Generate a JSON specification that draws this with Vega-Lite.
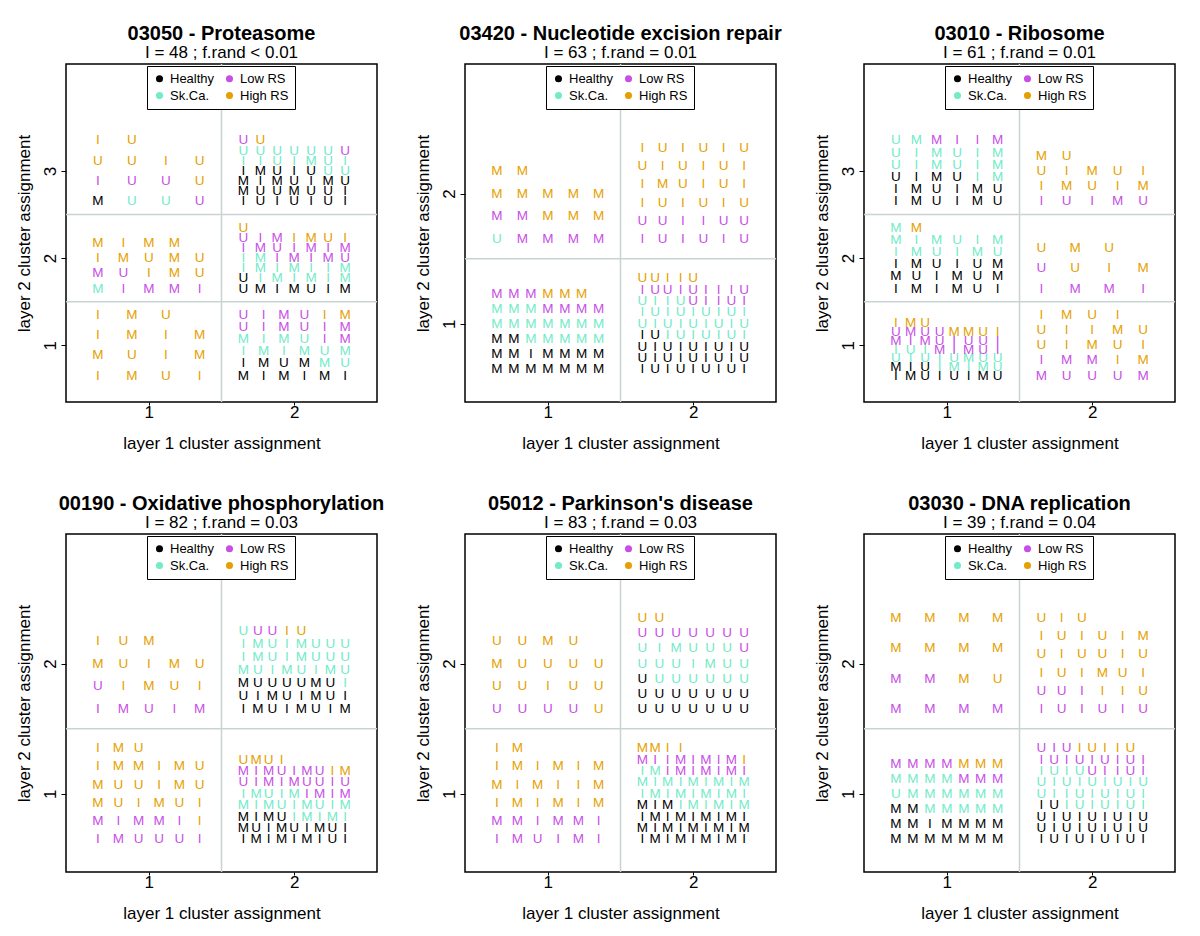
{
"$schema": "https://vega.github.io/schema/vega-lite/v6.json",
"background": "white",
"padding": {"left": 14, "top": 23, "right": 5, "bottom": 5},
"columns": 3,
"spacing": {"row": 132, "column": 88},
"bounds": "flush",
"resolve": {"scale": {"x": "independent", "y": "independent", "color": "independent"}, "legend": {"color": "independent"}},
"config": {
  "font": "Liberation Sans",
  "view": {"stroke": "#000000", "strokeWidth": 1.5},
  "title": {"fontSize": 20, "fontWeight": "bold", "subtitleFontSize": 17, "subtitleColor": "#000000", "color": "#000000", "anchor": "middle", "offset": 2, "subtitlePadding": 1, "font": "Liberation Sans", "subtitleFont": "Liberation Sans"},
  "axis": {"grid": false, "domain": false, "labelFontSize": 17, "titleFontSize": 17, "titleFontWeight": "normal", "labelColor": "#000000", "titleColor": "#000000", "tickColor": "#000000", "tickSize": 5, "labelPadding": 2, "titleFont": "Liberation Sans", "labelFont": "Liberation Sans"},
  "axisY": {"labelAngle": -90, "labelAlign": "center", "labelBaseline": "bottom", "titlePadding": 8},
  "axisX": {"tickSize": 3, "labelPadding": -1, "titlePadding": 15},
  "text": {"fontSize": 13.5, "font": "Liberation Sans"},
  "rule": {"color": "#C9D3D3", "strokeWidth": 1.5},
  "legend": {"orient": "none", "legendX": 81, "legendY": 2, "direction": "horizontal", "columns": 2, "strokeColor": "#000000", "fillColor": "#ffffff", "padding": 6, "symbolType": "circle", "symbolSize": 50, "labelFontSize": 13, "labelFont": "Liberation Sans", "labelColor": "#000000", "columnPadding": 8, "rowPadding": 3, "labelOffset": 4, "symbolStrokeWidth": 0, "symbolOpacity": 1}
},
"concat": [
{
 "width": 311, "height": 338,
 "title": {"text": "03050 - Proteasome", "subtitle": "I = 48 ; f.rand < 0.01"},
 "layer": [
  {"data": {"values": [{}]}, "mark": "rule", "encoding": {"x": {"datum": 1.5, "scale": {"domain": [0.43, 2.57], "nice": false, "zero": false}}}},
  {"data": {"values": [{}]}, "mark": "rule", "encoding": {"y": {"datum": 1.5, "scale": {"domain": [0.348, 4.228], "nice": false, "zero": false}}}},
  {"data": {"values": [{}]}, "mark": "rule", "encoding": {"y": {"datum": 2.5, "scale": {"domain": [0.348, 4.228], "nice": false, "zero": false}}}},
  {"data": {"values": [
{"x":0.65,"y":2.65,"l":"M","g":"K"},{"x":0.883,"y":2.65,"l":"U","g":"T"},{"x":1.117,"y":2.65,"l":"U","g":"T"},{"x":1.35,"y":2.65,"l":"U","g":"P"},
{"x":0.65,"y":2.883,"l":"I","g":"P"},{"x":0.883,"y":2.883,"l":"U","g":"P"},{"x":1.117,"y":2.883,"l":"U","g":"P"},{"x":1.35,"y":2.883,"l":"U","g":"O"},
{"x":0.65,"y":3.117,"l":"U","g":"O"},{"x":0.883,"y":3.117,"l":"U","g":"O"},{"x":1.117,"y":3.117,"l":"I","g":"O"},{"x":1.35,"y":3.117,"l":"U","g":"O"},
{"x":0.65,"y":3.35,"l":"I","g":"O"},{"x":0.883,"y":3.35,"l":"U","g":"O"},
{"x":0.65,"y":1.65,"l":"M","g":"T"},{"x":0.825,"y":1.65,"l":"I","g":"P"},{"x":1,"y":1.65,"l":"M","g":"P"},{"x":1.175,"y":1.65,"l":"M","g":"P"},{"x":1.35,"y":1.65,"l":"I","g":"P"},
{"x":0.65,"y":1.825,"l":"M","g":"P"},{"x":0.825,"y":1.825,"l":"U","g":"P"},{"x":1,"y":1.825,"l":"I","g":"O"},{"x":1.175,"y":1.825,"l":"M","g":"O"},{"x":1.35,"y":1.825,"l":"U","g":"O"},
{"x":0.65,"y":2,"l":"I","g":"O"},{"x":0.825,"y":2,"l":"M","g":"O"},{"x":1,"y":2,"l":"U","g":"O"},{"x":1.175,"y":2,"l":"M","g":"O"},{"x":1.35,"y":2,"l":"U","g":"O"},
{"x":0.65,"y":2.175,"l":"M","g":"O"},{"x":0.825,"y":2.175,"l":"I","g":"O"},{"x":1,"y":2.175,"l":"M","g":"O"},{"x":1.175,"y":2.175,"l":"M","g":"O"},
{"x":0.65,"y":0.65,"l":"I","g":"O"},{"x":0.883,"y":0.65,"l":"M","g":"O"},{"x":1.117,"y":0.65,"l":"U","g":"O"},{"x":1.35,"y":0.65,"l":"I","g":"O"},
{"x":0.65,"y":0.883,"l":"M","g":"O"},{"x":0.883,"y":0.883,"l":"U","g":"O"},{"x":1.117,"y":0.883,"l":"I","g":"O"},{"x":1.35,"y":0.883,"l":"M","g":"O"},
{"x":0.65,"y":1.117,"l":"I","g":"O"},{"x":0.883,"y":1.117,"l":"M","g":"O"},{"x":1.117,"y":1.117,"l":"I","g":"O"},{"x":1.35,"y":1.117,"l":"M","g":"O"},
{"x":0.65,"y":1.35,"l":"I","g":"O"},{"x":0.883,"y":1.35,"l":"M","g":"O"},{"x":1.117,"y":1.35,"l":"U","g":"O"},
{"x":1.65,"y":2.65,"l":"I","g":"K"},{"x":1.767,"y":2.65,"l":"U","g":"K"},{"x":1.883,"y":2.65,"l":"I","g":"K"},{"x":2,"y":2.65,"l":"U","g":"K"},{"x":2.117,"y":2.65,"l":"I","g":"K"},{"x":2.233,"y":2.65,"l":"U","g":"K"},{"x":2.35,"y":2.65,"l":"I","g":"K"},
{"x":1.65,"y":2.767,"l":"M","g":"K"},{"x":1.767,"y":2.767,"l":"U","g":"K"},{"x":1.883,"y":2.767,"l":"U","g":"K"},{"x":2,"y":2.767,"l":"M","g":"K"},{"x":2.117,"y":2.767,"l":"U","g":"K"},{"x":2.233,"y":2.767,"l":"U","g":"K"},{"x":2.35,"y":2.767,"l":"I","g":"K"},
{"x":1.65,"y":2.883,"l":"M","g":"K"},{"x":1.767,"y":2.883,"l":"I","g":"K"},{"x":1.883,"y":2.883,"l":"M","g":"K"},{"x":2,"y":2.883,"l":"U","g":"K"},{"x":2.117,"y":2.883,"l":"I","g":"K"},{"x":2.233,"y":2.883,"l":"M","g":"K"},{"x":2.35,"y":2.883,"l":"U","g":"K"},
{"x":1.65,"y":3,"l":"I","g":"K"},{"x":1.767,"y":3,"l":"M","g":"K"},{"x":1.883,"y":3,"l":"U","g":"K"},{"x":2,"y":3,"l":"I","g":"K"},{"x":2.117,"y":3,"l":"U","g":"K"},{"x":2.233,"y":3,"l":"U","g":"T"},{"x":2.35,"y":3,"l":"U","g":"T"},
{"x":1.65,"y":3.117,"l":"I","g":"T"},{"x":1.767,"y":3.117,"l":"I","g":"T"},{"x":1.883,"y":3.117,"l":"U","g":"T"},{"x":2,"y":3.117,"l":"I","g":"T"},{"x":2.117,"y":3.117,"l":"M","g":"T"},{"x":2.233,"y":3.117,"l":"U","g":"T"},{"x":2.35,"y":3.117,"l":"I","g":"T"},
{"x":1.65,"y":3.233,"l":"U","g":"T"},{"x":1.767,"y":3.233,"l":"U","g":"T"},{"x":1.883,"y":3.233,"l":"U","g":"T"},{"x":2,"y":3.233,"l":"U","g":"T"},{"x":2.117,"y":3.233,"l":"U","g":"T"},{"x":2.233,"y":3.233,"l":"U","g":"T"},{"x":2.35,"y":3.233,"l":"U","g":"P"},
{"x":1.65,"y":3.35,"l":"U","g":"P"},{"x":1.767,"y":3.35,"l":"U","g":"O"},
{"x":1.65,"y":1.65,"l":"U","g":"K"},{"x":1.767,"y":1.65,"l":"M","g":"K"},{"x":1.883,"y":1.65,"l":"I","g":"K"},{"x":2,"y":1.65,"l":"M","g":"K"},{"x":2.117,"y":1.65,"l":"U","g":"K"},{"x":2.233,"y":1.65,"l":"I","g":"K"},{"x":2.35,"y":1.65,"l":"M","g":"K"},
{"x":1.65,"y":1.767,"l":"U","g":"K"},{"x":1.767,"y":1.767,"l":"I","g":"T"},{"x":1.883,"y":1.767,"l":"M","g":"T"},{"x":2,"y":1.767,"l":"I","g":"T"},{"x":2.117,"y":1.767,"l":"M","g":"T"},{"x":2.233,"y":1.767,"l":"I","g":"T"},{"x":2.35,"y":1.767,"l":"M","g":"T"},
{"x":1.65,"y":1.883,"l":"I","g":"T"},{"x":1.767,"y":1.883,"l":"M","g":"T"},{"x":1.883,"y":1.883,"l":"I","g":"T"},{"x":2,"y":1.883,"l":"M","g":"T"},{"x":2.117,"y":1.883,"l":"I","g":"T"},{"x":2.233,"y":1.883,"l":"I","g":"T"},{"x":2.35,"y":1.883,"l":"M","g":"T"},
{"x":1.65,"y":2,"l":"I","g":"T"},{"x":1.767,"y":2,"l":"M","g":"T"},{"x":1.883,"y":2,"l":"I","g":"P"},{"x":2,"y":2,"l":"M","g":"P"},{"x":2.117,"y":2,"l":"I","g":"P"},{"x":2.233,"y":2,"l":"M","g":"P"},{"x":2.35,"y":2,"l":"U","g":"P"},
{"x":1.65,"y":2.117,"l":"I","g":"P"},{"x":1.767,"y":2.117,"l":"M","g":"P"},{"x":1.883,"y":2.117,"l":"U","g":"P"},{"x":2,"y":2.117,"l":"I","g":"P"},{"x":2.117,"y":2.117,"l":"M","g":"P"},{"x":2.233,"y":2.117,"l":"I","g":"P"},{"x":2.35,"y":2.117,"l":"M","g":"P"},
{"x":1.65,"y":2.233,"l":"U","g":"P"},{"x":1.767,"y":2.233,"l":"I","g":"P"},{"x":1.883,"y":2.233,"l":"M","g":"P"},{"x":2,"y":2.233,"l":"I","g":"O"},{"x":2.117,"y":2.233,"l":"M","g":"O"},{"x":2.233,"y":2.233,"l":"U","g":"O"},{"x":2.35,"y":2.233,"l":"I","g":"O"},
{"x":1.65,"y":2.35,"l":"U","g":"O"},
{"x":1.65,"y":0.65,"l":"M","g":"K"},{"x":1.79,"y":0.65,"l":"I","g":"K"},{"x":1.93,"y":0.65,"l":"M","g":"K"},{"x":2.07,"y":0.65,"l":"I","g":"K"},{"x":2.21,"y":0.65,"l":"M","g":"K"},{"x":2.35,"y":0.65,"l":"I","g":"K"},
{"x":1.65,"y":0.79,"l":"I","g":"K"},{"x":1.79,"y":0.79,"l":"M","g":"K"},{"x":1.93,"y":0.79,"l":"U","g":"K"},{"x":2.07,"y":0.79,"l":"M","g":"K"},{"x":2.21,"y":0.79,"l":"M","g":"T"},{"x":2.35,"y":0.79,"l":"U","g":"T"},
{"x":1.65,"y":0.93,"l":"I","g":"T"},{"x":1.79,"y":0.93,"l":"M","g":"T"},{"x":1.93,"y":0.93,"l":"I","g":"T"},{"x":2.07,"y":0.93,"l":"M","g":"T"},{"x":2.21,"y":0.93,"l":"U","g":"T"},{"x":2.35,"y":0.93,"l":"M","g":"T"},
{"x":1.65,"y":1.07,"l":"M","g":"T"},{"x":1.79,"y":1.07,"l":"I","g":"T"},{"x":1.93,"y":1.07,"l":"M","g":"T"},{"x":2.07,"y":1.07,"l":"U","g":"T"},{"x":2.21,"y":1.07,"l":"I","g":"P"},{"x":2.35,"y":1.07,"l":"M","g":"P"},
{"x":1.65,"y":1.21,"l":"U","g":"P"},{"x":1.79,"y":1.21,"l":"I","g":"P"},{"x":1.93,"y":1.21,"l":"M","g":"P"},{"x":2.07,"y":1.21,"l":"U","g":"P"},{"x":2.21,"y":1.21,"l":"I","g":"P"},{"x":2.35,"y":1.21,"l":"M","g":"P"},
{"x":1.65,"y":1.35,"l":"U","g":"P"},{"x":1.79,"y":1.35,"l":"I","g":"P"},{"x":1.93,"y":1.35,"l":"M","g":"P"},{"x":2.07,"y":1.35,"l":"U","g":"P"},{"x":2.21,"y":1.35,"l":"I","g":"O"},{"x":2.35,"y":1.35,"l":"M","g":"O"}
  ]},
  "mark": "text",
  "encoding": {
   "x": {"field": "x", "type": "quantitative", "scale": {"domain": [0.43, 2.57], "nice": false, "zero": false}, "axis": {"values": [1, 2], "format": "d", "title": "layer 1 cluster assignment"}},
   "y": {"field": "y", "type": "quantitative", "scale": {"domain": [0.348, 4.228], "nice": false, "zero": false}, "axis": {"values": [1, 2, 3], "format": "d", "title": "layer 2 cluster assignment"}},
   "text": {"field": "l"},
   "color": {"field": "g", "type": "nominal", "scale": {"domain": ["K", "P", "T", "O"], "range": ["#000000", "#C84FE6", "#72EBC8", "#E69F00"]}, "legend": {"title": null, "labelExpr": "datum.label == 'K' ? 'Healthy' : datum.label == 'T' ? 'Sk.Ca.' : datum.label == 'P' ? 'Low RS' : 'High RS'"}}
  }}
 ]
},
{
 "width": 311, "height": 338,
 "title": {"text": "03420 - Nucleotide excision repair", "subtitle": "I = 63 ; f.rand = 0.01"},
 "layer": [
  {"data": {"values": [{}]}, "mark": "rule", "encoding": {"x": {"datum": 1.5, "scale": {"domain": [0.43, 2.57], "nice": false, "zero": false}}}},
  {"data": {"values": [{}]}, "mark": "rule", "encoding": {"y": {"datum": 1.5, "scale": {"domain": [0.4, 2.995], "nice": false, "zero": false}}}},
  {"data": {"values": [
{"x":0.65,"y":1.65,"l":"U","g":"T"},{"x":0.825,"y":1.65,"l":"M","g":"P"},{"x":1,"y":1.65,"l":"M","g":"P"},{"x":1.175,"y":1.65,"l":"M","g":"P"},{"x":1.35,"y":1.65,"l":"M","g":"P"},
{"x":0.65,"y":1.825,"l":"M","g":"P"},{"x":0.825,"y":1.825,"l":"M","g":"P"},{"x":1,"y":1.825,"l":"M","g":"O"},{"x":1.175,"y":1.825,"l":"M","g":"O"},{"x":1.35,"y":1.825,"l":"M","g":"O"},
{"x":0.65,"y":2,"l":"M","g":"O"},{"x":0.825,"y":2,"l":"M","g":"O"},{"x":1,"y":2,"l":"M","g":"O"},{"x":1.175,"y":2,"l":"M","g":"O"},{"x":1.35,"y":2,"l":"M","g":"O"},
{"x":0.65,"y":2.175,"l":"M","g":"O"},{"x":0.825,"y":2.175,"l":"M","g":"O"},
{"x":0.65,"y":0.65,"l":"M","g":"K"},{"x":0.767,"y":0.65,"l":"M","g":"K"},{"x":0.883,"y":0.65,"l":"M","g":"K"},{"x":1,"y":0.65,"l":"M","g":"K"},{"x":1.117,"y":0.65,"l":"M","g":"K"},{"x":1.233,"y":0.65,"l":"M","g":"K"},{"x":1.35,"y":0.65,"l":"M","g":"K"},
{"x":0.65,"y":0.767,"l":"M","g":"K"},{"x":0.767,"y":0.767,"l":"M","g":"K"},{"x":0.883,"y":0.767,"l":"I","g":"K"},{"x":1,"y":0.767,"l":"M","g":"K"},{"x":1.117,"y":0.767,"l":"M","g":"K"},{"x":1.233,"y":0.767,"l":"M","g":"K"},{"x":1.35,"y":0.767,"l":"M","g":"K"},
{"x":0.65,"y":0.883,"l":"M","g":"K"},{"x":0.767,"y":0.883,"l":"M","g":"K"},{"x":0.883,"y":0.883,"l":"M","g":"T"},{"x":1,"y":0.883,"l":"M","g":"T"},{"x":1.117,"y":0.883,"l":"M","g":"T"},{"x":1.233,"y":0.883,"l":"M","g":"T"},{"x":1.35,"y":0.883,"l":"M","g":"T"},
{"x":0.65,"y":1,"l":"M","g":"T"},{"x":0.767,"y":1,"l":"M","g":"T"},{"x":0.883,"y":1,"l":"M","g":"T"},{"x":1,"y":1,"l":"M","g":"T"},{"x":1.117,"y":1,"l":"M","g":"T"},{"x":1.233,"y":1,"l":"M","g":"T"},{"x":1.35,"y":1,"l":"M","g":"T"},
{"x":0.65,"y":1.117,"l":"M","g":"T"},{"x":0.767,"y":1.117,"l":"M","g":"T"},{"x":0.883,"y":1.117,"l":"M","g":"T"},{"x":1,"y":1.117,"l":"M","g":"P"},{"x":1.117,"y":1.117,"l":"M","g":"P"},{"x":1.233,"y":1.117,"l":"M","g":"P"},{"x":1.35,"y":1.117,"l":"M","g":"P"},
{"x":0.65,"y":1.233,"l":"M","g":"P"},{"x":0.767,"y":1.233,"l":"M","g":"P"},{"x":0.883,"y":1.233,"l":"M","g":"P"},{"x":1,"y":1.233,"l":"M","g":"O"},{"x":1.117,"y":1.233,"l":"M","g":"O"},{"x":1.233,"y":1.233,"l":"M","g":"O"},
{"x":1.65,"y":1.65,"l":"I","g":"P"},{"x":1.79,"y":1.65,"l":"U","g":"P"},{"x":1.93,"y":1.65,"l":"I","g":"P"},{"x":2.07,"y":1.65,"l":"U","g":"P"},{"x":2.21,"y":1.65,"l":"I","g":"P"},{"x":2.35,"y":1.65,"l":"U","g":"P"},
{"x":1.65,"y":1.79,"l":"U","g":"P"},{"x":1.79,"y":1.79,"l":"U","g":"P"},{"x":1.93,"y":1.79,"l":"I","g":"P"},{"x":2.07,"y":1.79,"l":"I","g":"P"},{"x":2.21,"y":1.79,"l":"U","g":"P"},{"x":2.35,"y":1.79,"l":"U","g":"P"},
{"x":1.65,"y":1.93,"l":"I","g":"O"},{"x":1.79,"y":1.93,"l":"U","g":"O"},{"x":1.93,"y":1.93,"l":"I","g":"O"},{"x":2.07,"y":1.93,"l":"U","g":"O"},{"x":2.21,"y":1.93,"l":"I","g":"O"},{"x":2.35,"y":1.93,"l":"U","g":"O"},
{"x":1.65,"y":2.07,"l":"I","g":"O"},{"x":1.79,"y":2.07,"l":"M","g":"O"},{"x":1.93,"y":2.07,"l":"U","g":"O"},{"x":2.07,"y":2.07,"l":"I","g":"O"},{"x":2.21,"y":2.07,"l":"U","g":"O"},{"x":2.35,"y":2.07,"l":"I","g":"O"},
{"x":1.65,"y":2.21,"l":"U","g":"O"},{"x":1.79,"y":2.21,"l":"I","g":"O"},{"x":1.93,"y":2.21,"l":"U","g":"O"},{"x":2.07,"y":2.21,"l":"I","g":"O"},{"x":2.21,"y":2.21,"l":"U","g":"O"},{"x":2.35,"y":2.21,"l":"I","g":"O"},
{"x":1.65,"y":2.35,"l":"I","g":"O"},{"x":1.79,"y":2.35,"l":"U","g":"O"},{"x":1.93,"y":2.35,"l":"I","g":"O"},{"x":2.07,"y":2.35,"l":"U","g":"O"},{"x":2.21,"y":2.35,"l":"I","g":"O"},{"x":2.35,"y":2.35,"l":"U","g":"O"},
{"x":1.65,"y":0.65,"l":"I","g":"K"},{"x":1.738,"y":0.65,"l":"U","g":"K"},{"x":1.825,"y":0.65,"l":"I","g":"K"},{"x":1.913,"y":0.65,"l":"U","g":"K"},{"x":2,"y":0.65,"l":"I","g":"K"},{"x":2.088,"y":0.65,"l":"U","g":"K"},{"x":2.175,"y":0.65,"l":"I","g":"K"},{"x":2.263,"y":0.65,"l":"U","g":"K"},{"x":2.35,"y":0.65,"l":"I","g":"K"},
{"x":1.65,"y":0.738,"l":"U","g":"K"},{"x":1.738,"y":0.738,"l":"I","g":"K"},{"x":1.825,"y":0.738,"l":"U","g":"K"},{"x":1.913,"y":0.738,"l":"I","g":"K"},{"x":2,"y":0.738,"l":"U","g":"K"},{"x":2.088,"y":0.738,"l":"I","g":"K"},{"x":2.175,"y":0.738,"l":"U","g":"K"},{"x":2.263,"y":0.738,"l":"I","g":"K"},{"x":2.35,"y":0.738,"l":"U","g":"K"},
{"x":1.65,"y":0.825,"l":"U","g":"K"},{"x":1.738,"y":0.825,"l":"I","g":"K"},{"x":1.825,"y":0.825,"l":"U","g":"K"},{"x":1.913,"y":0.825,"l":"I","g":"K"},{"x":2,"y":0.825,"l":"U","g":"K"},{"x":2.088,"y":0.825,"l":"I","g":"K"},{"x":2.175,"y":0.825,"l":"U","g":"K"},{"x":2.263,"y":0.825,"l":"I","g":"K"},{"x":2.35,"y":0.825,"l":"U","g":"K"},
{"x":1.65,"y":0.913,"l":"I","g":"K"},{"x":1.738,"y":0.913,"l":"U","g":"K"},{"x":1.825,"y":0.913,"l":"I","g":"T"},{"x":1.913,"y":0.913,"l":"U","g":"T"},{"x":2,"y":0.913,"l":"I","g":"T"},{"x":2.088,"y":0.913,"l":"U","g":"T"},{"x":2.175,"y":0.913,"l":"I","g":"T"},{"x":2.263,"y":0.913,"l":"U","g":"T"},{"x":2.35,"y":0.913,"l":"I","g":"T"},
{"x":1.65,"y":1,"l":"U","g":"T"},{"x":1.738,"y":1,"l":"I","g":"T"},{"x":1.825,"y":1,"l":"U","g":"T"},{"x":1.913,"y":1,"l":"I","g":"T"},{"x":2,"y":1,"l":"U","g":"T"},{"x":2.088,"y":1,"l":"I","g":"T"},{"x":2.175,"y":1,"l":"U","g":"T"},{"x":2.263,"y":1,"l":"I","g":"T"},{"x":2.35,"y":1,"l":"U","g":"T"},
{"x":1.65,"y":1.088,"l":"I","g":"T"},{"x":1.738,"y":1.088,"l":"U","g":"T"},{"x":1.825,"y":1.088,"l":"I","g":"T"},{"x":1.913,"y":1.088,"l":"U","g":"T"},{"x":2,"y":1.088,"l":"I","g":"T"},{"x":2.088,"y":1.088,"l":"U","g":"T"},{"x":2.175,"y":1.088,"l":"I","g":"T"},{"x":2.263,"y":1.088,"l":"U","g":"T"},{"x":2.35,"y":1.088,"l":"I","g":"T"},
{"x":1.65,"y":1.175,"l":"U","g":"T"},{"x":1.738,"y":1.175,"l":"I","g":"T"},{"x":1.825,"y":1.175,"l":"I","g":"T"},{"x":1.913,"y":1.175,"l":"U","g":"T"},{"x":2,"y":1.175,"l":"U","g":"P"},{"x":2.088,"y":1.175,"l":"I","g":"P"},{"x":2.175,"y":1.175,"l":"I","g":"P"},{"x":2.263,"y":1.175,"l":"U","g":"P"},{"x":2.35,"y":1.175,"l":"I","g":"P"},
{"x":1.65,"y":1.263,"l":"I","g":"P"},{"x":1.738,"y":1.263,"l":"U","g":"P"},{"x":1.825,"y":1.263,"l":"U","g":"P"},{"x":1.913,"y":1.263,"l":"I","g":"P"},{"x":2,"y":1.263,"l":"U","g":"P"},{"x":2.088,"y":1.263,"l":"I","g":"P"},{"x":2.175,"y":1.263,"l":"I","g":"P"},{"x":2.263,"y":1.263,"l":"I","g":"P"},{"x":2.35,"y":1.263,"l":"U","g":"P"},
{"x":1.65,"y":1.35,"l":"U","g":"O"},{"x":1.738,"y":1.35,"l":"U","g":"O"},{"x":1.825,"y":1.35,"l":"I","g":"O"},{"x":1.913,"y":1.35,"l":"I","g":"O"},{"x":2,"y":1.35,"l":"U","g":"O"}
  ]},
  "mark": "text",
  "encoding": {
   "x": {"field": "x", "type": "quantitative", "scale": {"domain": [0.43, 2.57], "nice": false, "zero": false}, "axis": {"values": [1, 2], "format": "d", "title": "layer 1 cluster assignment"}},
   "y": {"field": "y", "type": "quantitative", "scale": {"domain": [0.4, 2.995], "nice": false, "zero": false}, "axis": {"values": [1, 2], "format": "d", "title": "layer 2 cluster assignment"}},
   "text": {"field": "l"},
   "color": {"field": "g", "type": "nominal", "scale": {"domain": ["K", "P", "T", "O"], "range": ["#000000", "#C84FE6", "#72EBC8", "#E69F00"]}, "legend": {"title": null, "labelExpr": "datum.label == 'K' ? 'Healthy' : datum.label == 'T' ? 'Sk.Ca.' : datum.label == 'P' ? 'Low RS' : 'High RS'"}}
  }}
 ]
},
{
 "width": 311, "height": 338,
 "title": {"text": "03010 - Ribosome", "subtitle": "I = 61 ; f.rand = 0.01"},
 "layer": [
  {"data": {"values": [{}]}, "mark": "rule", "encoding": {"x": {"datum": 1.5, "scale": {"domain": [0.43, 2.57], "nice": false, "zero": false}}}},
  {"data": {"values": [{}]}, "mark": "rule", "encoding": {"y": {"datum": 1.5, "scale": {"domain": [0.348, 4.228], "nice": false, "zero": false}}}},
  {"data": {"values": [{}]}, "mark": "rule", "encoding": {"y": {"datum": 2.5, "scale": {"domain": [0.348, 4.228], "nice": false, "zero": false}}}},
  {"data": {"values": [
{"x":0.65,"y":2.65,"l":"I","g":"K"},{"x":0.79,"y":2.65,"l":"M","g":"K"},{"x":0.93,"y":2.65,"l":"U","g":"K"},{"x":1.07,"y":2.65,"l":"I","g":"K"},{"x":1.21,"y":2.65,"l":"M","g":"K"},{"x":1.35,"y":2.65,"l":"U","g":"K"},
{"x":0.65,"y":2.79,"l":"I","g":"K"},{"x":0.79,"y":2.79,"l":"M","g":"K"},{"x":0.93,"y":2.79,"l":"U","g":"K"},{"x":1.07,"y":2.79,"l":"I","g":"K"},{"x":1.21,"y":2.79,"l":"M","g":"K"},{"x":1.35,"y":2.79,"l":"U","g":"K"},
{"x":0.65,"y":2.93,"l":"U","g":"K"},{"x":0.79,"y":2.93,"l":"I","g":"K"},{"x":0.93,"y":2.93,"l":"M","g":"K"},{"x":1.07,"y":2.93,"l":"U","g":"K"},{"x":1.21,"y":2.93,"l":"I","g":"T"},{"x":1.35,"y":2.93,"l":"M","g":"T"},
{"x":0.65,"y":3.07,"l":"U","g":"T"},{"x":0.79,"y":3.07,"l":"I","g":"T"},{"x":0.93,"y":3.07,"l":"M","g":"T"},{"x":1.07,"y":3.07,"l":"U","g":"T"},{"x":1.21,"y":3.07,"l":"I","g":"T"},{"x":1.35,"y":3.07,"l":"M","g":"T"},
{"x":0.65,"y":3.21,"l":"U","g":"T"},{"x":0.79,"y":3.21,"l":"I","g":"T"},{"x":0.93,"y":3.21,"l":"M","g":"T"},{"x":1.07,"y":3.21,"l":"U","g":"T"},{"x":1.21,"y":3.21,"l":"I","g":"T"},{"x":1.35,"y":3.21,"l":"M","g":"T"},
{"x":0.65,"y":3.35,"l":"U","g":"T"},{"x":0.79,"y":3.35,"l":"M","g":"T"},{"x":0.93,"y":3.35,"l":"M","g":"P"},{"x":1.07,"y":3.35,"l":"I","g":"P"},{"x":1.21,"y":3.35,"l":"I","g":"P"},{"x":1.35,"y":3.35,"l":"M","g":"P"},
{"x":0.65,"y":1.65,"l":"I","g":"K"},{"x":0.79,"y":1.65,"l":"M","g":"K"},{"x":0.93,"y":1.65,"l":"I","g":"K"},{"x":1.07,"y":1.65,"l":"M","g":"K"},{"x":1.21,"y":1.65,"l":"U","g":"K"},{"x":1.35,"y":1.65,"l":"I","g":"K"},
{"x":0.65,"y":1.79,"l":"M","g":"K"},{"x":0.79,"y":1.79,"l":"U","g":"K"},{"x":0.93,"y":1.79,"l":"I","g":"K"},{"x":1.07,"y":1.79,"l":"M","g":"K"},{"x":1.21,"y":1.79,"l":"U","g":"K"},{"x":1.35,"y":1.79,"l":"M","g":"K"},
{"x":0.65,"y":1.93,"l":"I","g":"K"},{"x":0.79,"y":1.93,"l":"M","g":"K"},{"x":0.93,"y":1.93,"l":"U","g":"K"},{"x":1.07,"y":1.93,"l":"I","g":"K"},{"x":1.21,"y":1.93,"l":"U","g":"K"},{"x":1.35,"y":1.93,"l":"M","g":"K"},
{"x":0.65,"y":2.07,"l":"I","g":"T"},{"x":0.79,"y":2.07,"l":"M","g":"T"},{"x":0.93,"y":2.07,"l":"U","g":"T"},{"x":1.07,"y":2.07,"l":"I","g":"T"},{"x":1.21,"y":2.07,"l":"M","g":"T"},{"x":1.35,"y":2.07,"l":"U","g":"T"},
{"x":0.65,"y":2.21,"l":"M","g":"T"},{"x":0.79,"y":2.21,"l":"I","g":"T"},{"x":0.93,"y":2.21,"l":"M","g":"T"},{"x":1.07,"y":2.21,"l":"U","g":"T"},{"x":1.21,"y":2.21,"l":"I","g":"T"},{"x":1.35,"y":2.21,"l":"M","g":"T"},
{"x":0.65,"y":2.35,"l":"M","g":"T"},{"x":0.79,"y":2.35,"l":"M","g":"O"},
{"x":0.65,"y":0.65,"l":"I","g":"K"},{"x":0.75,"y":0.65,"l":"M","g":"K"},{"x":0.85,"y":0.65,"l":"U","g":"K"},{"x":0.95,"y":0.65,"l":"I","g":"K"},{"x":1.05,"y":0.65,"l":"U","g":"K"},{"x":1.15,"y":0.65,"l":"I","g":"K"},{"x":1.25,"y":0.65,"l":"M","g":"K"},{"x":1.35,"y":0.65,"l":"U","g":"K"},
{"x":0.65,"y":0.75,"l":"M","g":"K"},{"x":0.75,"y":0.75,"l":"I","g":"K"},{"x":0.85,"y":0.75,"l":"U","g":"K"},{"x":0.95,"y":0.75,"l":"I","g":"T"},{"x":1.05,"y":0.75,"l":"M","g":"T"},{"x":1.15,"y":0.75,"l":"I","g":"T"},{"x":1.25,"y":0.75,"l":"M","g":"T"},{"x":1.35,"y":0.75,"l":"U","g":"T"},
{"x":0.65,"y":0.85,"l":"U","g":"T"},{"x":0.75,"y":0.85,"l":"I","g":"T"},{"x":0.85,"y":0.85,"l":"U","g":"T"},{"x":0.95,"y":0.85,"l":"I","g":"T"},{"x":1.05,"y":0.85,"l":"U","g":"T"},{"x":1.15,"y":0.85,"l":"M","g":"T"},{"x":1.25,"y":0.85,"l":"U","g":"T"},{"x":1.35,"y":0.85,"l":"U","g":"T"},
{"x":0.65,"y":0.95,"l":"I","g":"T"},{"x":0.75,"y":0.95,"l":"U","g":"T"},{"x":0.85,"y":0.95,"l":"I","g":"T"},{"x":0.95,"y":0.95,"l":"M","g":"P"},{"x":1.05,"y":0.95,"l":"I","g":"P"},{"x":1.15,"y":0.95,"l":"M","g":"P"},{"x":1.25,"y":0.95,"l":"U","g":"P"},{"x":1.35,"y":0.95,"l":"I","g":"P"},
{"x":0.65,"y":1.05,"l":"M","g":"P"},{"x":0.75,"y":1.05,"l":"I","g":"P"},{"x":0.85,"y":1.05,"l":"M","g":"P"},{"x":0.95,"y":1.05,"l":"U","g":"P"},{"x":1.05,"y":1.05,"l":"I","g":"P"},{"x":1.15,"y":1.05,"l":"U","g":"P"},{"x":1.25,"y":1.05,"l":"U","g":"P"},{"x":1.35,"y":1.05,"l":"I","g":"P"},
{"x":0.65,"y":1.15,"l":"U","g":"P"},{"x":0.75,"y":1.15,"l":"M","g":"P"},{"x":0.85,"y":1.15,"l":"U","g":"P"},{"x":0.95,"y":1.15,"l":"U","g":"P"},{"x":1.05,"y":1.15,"l":"M","g":"O"},{"x":1.15,"y":1.15,"l":"M","g":"O"},{"x":1.25,"y":1.15,"l":"U","g":"O"},{"x":1.35,"y":1.15,"l":"I","g":"O"},
{"x":0.65,"y":1.25,"l":"I","g":"O"},{"x":0.75,"y":1.25,"l":"M","g":"O"},{"x":0.85,"y":1.25,"l":"U","g":"O"},
{"x":1.65,"y":2.65,"l":"I","g":"P"},{"x":1.825,"y":2.65,"l":"U","g":"P"},{"x":2,"y":2.65,"l":"I","g":"P"},{"x":2.175,"y":2.65,"l":"M","g":"P"},{"x":2.35,"y":2.65,"l":"U","g":"P"},
{"x":1.65,"y":2.825,"l":"I","g":"O"},{"x":1.825,"y":2.825,"l":"M","g":"O"},{"x":2,"y":2.825,"l":"U","g":"O"},{"x":2.175,"y":2.825,"l":"I","g":"O"},{"x":2.35,"y":2.825,"l":"M","g":"O"},
{"x":1.65,"y":3,"l":"U","g":"O"},{"x":1.825,"y":3,"l":"I","g":"O"},{"x":2,"y":3,"l":"M","g":"O"},{"x":2.175,"y":3,"l":"U","g":"O"},{"x":2.35,"y":3,"l":"I","g":"O"},
{"x":1.65,"y":3.175,"l":"M","g":"O"},{"x":1.825,"y":3.175,"l":"U","g":"O"},
{"x":1.65,"y":1.65,"l":"I","g":"P"},{"x":1.883,"y":1.65,"l":"M","g":"P"},{"x":2.117,"y":1.65,"l":"M","g":"P"},{"x":2.35,"y":1.65,"l":"I","g":"P"},
{"x":1.65,"y":1.883,"l":"U","g":"P"},{"x":1.883,"y":1.883,"l":"U","g":"O"},{"x":2.117,"y":1.883,"l":"I","g":"O"},{"x":2.35,"y":1.883,"l":"M","g":"O"},
{"x":1.65,"y":2.117,"l":"U","g":"O"},{"x":1.883,"y":2.117,"l":"M","g":"O"},{"x":2.117,"y":2.117,"l":"U","g":"O"},
{"x":1.65,"y":0.65,"l":"M","g":"P"},{"x":1.825,"y":0.65,"l":"U","g":"P"},{"x":2,"y":0.65,"l":"U","g":"P"},{"x":2.175,"y":0.65,"l":"U","g":"P"},{"x":2.35,"y":0.65,"l":"M","g":"P"},
{"x":1.65,"y":0.825,"l":"I","g":"P"},{"x":1.825,"y":0.825,"l":"M","g":"P"},{"x":2,"y":0.825,"l":"M","g":"P"},{"x":2.175,"y":0.825,"l":"I","g":"O"},{"x":2.35,"y":0.825,"l":"M","g":"O"},
{"x":1.65,"y":1,"l":"U","g":"O"},{"x":1.825,"y":1,"l":"I","g":"O"},{"x":2,"y":1,"l":"M","g":"O"},{"x":2.175,"y":1,"l":"U","g":"O"},{"x":2.35,"y":1,"l":"I","g":"O"},
{"x":1.65,"y":1.175,"l":"U","g":"O"},{"x":1.825,"y":1.175,"l":"I","g":"O"},{"x":2,"y":1.175,"l":"I","g":"O"},{"x":2.175,"y":1.175,"l":"M","g":"O"},{"x":2.35,"y":1.175,"l":"U","g":"O"},
{"x":1.65,"y":1.35,"l":"I","g":"O"},{"x":1.825,"y":1.35,"l":"M","g":"O"},{"x":2,"y":1.35,"l":"U","g":"O"},{"x":2.175,"y":1.35,"l":"I","g":"O"}
  ]},
  "mark": "text",
  "encoding": {
   "x": {"field": "x", "type": "quantitative", "scale": {"domain": [0.43, 2.57], "nice": false, "zero": false}, "axis": {"values": [1, 2], "format": "d", "title": "layer 1 cluster assignment"}},
   "y": {"field": "y", "type": "quantitative", "scale": {"domain": [0.348, 4.228], "nice": false, "zero": false}, "axis": {"values": [1, 2, 3], "format": "d", "title": "layer 2 cluster assignment"}},
   "text": {"field": "l"},
   "color": {"field": "g", "type": "nominal", "scale": {"domain": ["K", "P", "T", "O"], "range": ["#000000", "#C84FE6", "#72EBC8", "#E69F00"]}, "legend": {"title": null, "labelExpr": "datum.label == 'K' ? 'Healthy' : datum.label == 'T' ? 'Sk.Ca.' : datum.label == 'P' ? 'Low RS' : 'High RS'"}}
  }}
 ]
},
{
 "width": 311, "height": 338,
 "title": {"text": "00190 - Oxidative phosphorylation", "subtitle": "I = 82 ; f.rand = 0.03"},
 "layer": [
  {"data": {"values": [{}]}, "mark": "rule", "encoding": {"x": {"datum": 1.5, "scale": {"domain": [0.43, 2.57], "nice": false, "zero": false}}}},
  {"data": {"values": [{}]}, "mark": "rule", "encoding": {"y": {"datum": 1.5, "scale": {"domain": [0.4, 2.995], "nice": false, "zero": false}}}},
  {"data": {"values": [
{"x":0.65,"y":1.65,"l":"I","g":"P"},{"x":0.825,"y":1.65,"l":"M","g":"P"},{"x":1,"y":1.65,"l":"U","g":"P"},{"x":1.175,"y":1.65,"l":"I","g":"P"},{"x":1.35,"y":1.65,"l":"M","g":"P"},
{"x":0.65,"y":1.825,"l":"U","g":"P"},{"x":0.825,"y":1.825,"l":"I","g":"O"},{"x":1,"y":1.825,"l":"M","g":"O"},{"x":1.175,"y":1.825,"l":"U","g":"O"},{"x":1.35,"y":1.825,"l":"I","g":"O"},
{"x":0.65,"y":2,"l":"M","g":"O"},{"x":0.825,"y":2,"l":"U","g":"O"},{"x":1,"y":2,"l":"I","g":"O"},{"x":1.175,"y":2,"l":"M","g":"O"},{"x":1.35,"y":2,"l":"U","g":"O"},
{"x":0.65,"y":2.175,"l":"I","g":"O"},{"x":0.825,"y":2.175,"l":"U","g":"O"},{"x":1,"y":2.175,"l":"M","g":"O"},
{"x":0.65,"y":0.65,"l":"I","g":"P"},{"x":0.79,"y":0.65,"l":"M","g":"P"},{"x":0.93,"y":0.65,"l":"U","g":"P"},{"x":1.07,"y":0.65,"l":"U","g":"P"},{"x":1.21,"y":0.65,"l":"U","g":"P"},{"x":1.35,"y":0.65,"l":"I","g":"P"},
{"x":0.65,"y":0.79,"l":"M","g":"P"},{"x":0.79,"y":0.79,"l":"I","g":"P"},{"x":0.93,"y":0.79,"l":"M","g":"P"},{"x":1.07,"y":0.79,"l":"M","g":"P"},{"x":1.21,"y":0.79,"l":"I","g":"P"},{"x":1.35,"y":0.79,"l":"I","g":"O"},
{"x":0.65,"y":0.93,"l":"M","g":"O"},{"x":0.79,"y":0.93,"l":"U","g":"O"},{"x":0.93,"y":0.93,"l":"I","g":"O"},{"x":1.07,"y":0.93,"l":"M","g":"O"},{"x":1.21,"y":0.93,"l":"U","g":"O"},{"x":1.35,"y":0.93,"l":"I","g":"O"},
{"x":0.65,"y":1.07,"l":"M","g":"O"},{"x":0.79,"y":1.07,"l":"U","g":"O"},{"x":0.93,"y":1.07,"l":"U","g":"O"},{"x":1.07,"y":1.07,"l":"I","g":"O"},{"x":1.21,"y":1.07,"l":"M","g":"O"},{"x":1.35,"y":1.07,"l":"U","g":"O"},
{"x":0.65,"y":1.21,"l":"I","g":"O"},{"x":0.79,"y":1.21,"l":"M","g":"O"},{"x":0.93,"y":1.21,"l":"M","g":"O"},{"x":1.07,"y":1.21,"l":"I","g":"O"},{"x":1.21,"y":1.21,"l":"M","g":"O"},{"x":1.35,"y":1.21,"l":"U","g":"O"},
{"x":0.65,"y":1.35,"l":"I","g":"O"},{"x":0.79,"y":1.35,"l":"M","g":"O"},{"x":0.93,"y":1.35,"l":"U","g":"O"},
{"x":1.65,"y":1.65,"l":"I","g":"K"},{"x":1.75,"y":1.65,"l":"M","g":"K"},{"x":1.85,"y":1.65,"l":"U","g":"K"},{"x":1.95,"y":1.65,"l":"I","g":"K"},{"x":2.05,"y":1.65,"l":"M","g":"K"},{"x":2.15,"y":1.65,"l":"U","g":"K"},{"x":2.25,"y":1.65,"l":"I","g":"K"},{"x":2.35,"y":1.65,"l":"M","g":"K"},
{"x":1.65,"y":1.75,"l":"U","g":"K"},{"x":1.75,"y":1.75,"l":"I","g":"K"},{"x":1.85,"y":1.75,"l":"M","g":"K"},{"x":1.95,"y":1.75,"l":"U","g":"K"},{"x":2.05,"y":1.75,"l":"I","g":"K"},{"x":2.15,"y":1.75,"l":"M","g":"K"},{"x":2.25,"y":1.75,"l":"U","g":"K"},{"x":2.35,"y":1.75,"l":"I","g":"K"},
{"x":1.65,"y":1.85,"l":"M","g":"K"},{"x":1.75,"y":1.85,"l":"U","g":"K"},{"x":1.85,"y":1.85,"l":"U","g":"K"},{"x":1.95,"y":1.85,"l":"U","g":"K"},{"x":2.05,"y":1.85,"l":"U","g":"K"},{"x":2.15,"y":1.85,"l":"M","g":"K"},{"x":2.25,"y":1.85,"l":"U","g":"K"},{"x":2.35,"y":1.85,"l":"I","g":"T"},
{"x":1.65,"y":1.95,"l":"M","g":"T"},{"x":1.75,"y":1.95,"l":"U","g":"T"},{"x":1.85,"y":1.95,"l":"I","g":"T"},{"x":1.95,"y":1.95,"l":"M","g":"T"},{"x":2.05,"y":1.95,"l":"U","g":"T"},{"x":2.15,"y":1.95,"l":"I","g":"T"},{"x":2.25,"y":1.95,"l":"M","g":"T"},{"x":2.35,"y":1.95,"l":"U","g":"T"},
{"x":1.65,"y":2.05,"l":"I","g":"T"},{"x":1.75,"y":2.05,"l":"M","g":"T"},{"x":1.85,"y":2.05,"l":"U","g":"T"},{"x":1.95,"y":2.05,"l":"I","g":"T"},{"x":2.05,"y":2.05,"l":"M","g":"T"},{"x":2.15,"y":2.05,"l":"U","g":"T"},{"x":2.25,"y":2.05,"l":"U","g":"T"},{"x":2.35,"y":2.05,"l":"U","g":"T"},
{"x":1.65,"y":2.15,"l":"I","g":"T"},{"x":1.75,"y":2.15,"l":"M","g":"T"},{"x":1.85,"y":2.15,"l":"U","g":"T"},{"x":1.95,"y":2.15,"l":"I","g":"T"},{"x":2.05,"y":2.15,"l":"M","g":"T"},{"x":2.15,"y":2.15,"l":"U","g":"T"},{"x":2.25,"y":2.15,"l":"U","g":"T"},{"x":2.35,"y":2.15,"l":"U","g":"T"},
{"x":1.65,"y":2.25,"l":"U","g":"T"},{"x":1.75,"y":2.25,"l":"U","g":"P"},{"x":1.85,"y":2.25,"l":"U","g":"P"},{"x":1.95,"y":2.25,"l":"I","g":"O"},{"x":2.05,"y":2.25,"l":"U","g":"O"},
{"x":1.65,"y":0.65,"l":"I","g":"K"},{"x":1.738,"y":0.65,"l":"M","g":"K"},{"x":1.825,"y":0.65,"l":"I","g":"K"},{"x":1.913,"y":0.65,"l":"M","g":"K"},{"x":2,"y":0.65,"l":"I","g":"K"},{"x":2.088,"y":0.65,"l":"M","g":"K"},{"x":2.175,"y":0.65,"l":"I","g":"K"},{"x":2.263,"y":0.65,"l":"U","g":"K"},{"x":2.35,"y":0.65,"l":"I","g":"K"},
{"x":1.65,"y":0.738,"l":"M","g":"K"},{"x":1.738,"y":0.738,"l":"U","g":"K"},{"x":1.825,"y":0.738,"l":"I","g":"K"},{"x":1.913,"y":0.738,"l":"M","g":"K"},{"x":2,"y":0.738,"l":"U","g":"K"},{"x":2.088,"y":0.738,"l":"I","g":"K"},{"x":2.175,"y":0.738,"l":"M","g":"K"},{"x":2.263,"y":0.738,"l":"U","g":"K"},{"x":2.35,"y":0.738,"l":"I","g":"K"},
{"x":1.65,"y":0.825,"l":"M","g":"K"},{"x":1.738,"y":0.825,"l":"I","g":"K"},{"x":1.825,"y":0.825,"l":"M","g":"K"},{"x":1.913,"y":0.825,"l":"U","g":"K"},{"x":2,"y":0.825,"l":"I","g":"T"},{"x":2.088,"y":0.825,"l":"M","g":"T"},{"x":2.175,"y":0.825,"l":"I","g":"T"},{"x":2.263,"y":0.825,"l":"M","g":"T"},{"x":2.35,"y":0.825,"l":"I","g":"T"},
{"x":1.65,"y":0.913,"l":"M","g":"T"},{"x":1.738,"y":0.913,"l":"I","g":"T"},{"x":1.825,"y":0.913,"l":"M","g":"T"},{"x":1.913,"y":0.913,"l":"U","g":"T"},{"x":2,"y":0.913,"l":"I","g":"T"},{"x":2.088,"y":0.913,"l":"M","g":"T"},{"x":2.175,"y":0.913,"l":"U","g":"T"},{"x":2.263,"y":0.913,"l":"I","g":"T"},{"x":2.35,"y":0.913,"l":"M","g":"T"},
{"x":1.65,"y":1,"l":"I","g":"T"},{"x":1.738,"y":1,"l":"M","g":"T"},{"x":1.825,"y":1,"l":"U","g":"T"},{"x":1.913,"y":1,"l":"I","g":"T"},{"x":2,"y":1,"l":"M","g":"T"},{"x":2.088,"y":1,"l":"I","g":"P"},{"x":2.175,"y":1,"l":"M","g":"P"},{"x":2.263,"y":1,"l":"I","g":"P"},{"x":2.35,"y":1,"l":"M","g":"P"},
{"x":1.65,"y":1.088,"l":"U","g":"P"},{"x":1.738,"y":1.088,"l":"I","g":"P"},{"x":1.825,"y":1.088,"l":"M","g":"P"},{"x":1.913,"y":1.088,"l":"I","g":"P"},{"x":2,"y":1.088,"l":"M","g":"P"},{"x":2.088,"y":1.088,"l":"U","g":"P"},{"x":2.175,"y":1.088,"l":"U","g":"P"},{"x":2.263,"y":1.088,"l":"I","g":"P"},{"x":2.35,"y":1.088,"l":"U","g":"P"},
{"x":1.65,"y":1.175,"l":"M","g":"P"},{"x":1.738,"y":1.175,"l":"I","g":"P"},{"x":1.825,"y":1.175,"l":"M","g":"P"},{"x":1.913,"y":1.175,"l":"U","g":"P"},{"x":2,"y":1.175,"l":"I","g":"P"},{"x":2.088,"y":1.175,"l":"M","g":"P"},{"x":2.175,"y":1.175,"l":"U","g":"P"},{"x":2.263,"y":1.175,"l":"I","g":"O"},{"x":2.35,"y":1.175,"l":"M","g":"O"},
{"x":1.65,"y":1.263,"l":"U","g":"O"},{"x":1.738,"y":1.263,"l":"M","g":"O"},{"x":1.825,"y":1.263,"l":"U","g":"O"},{"x":1.913,"y":1.263,"l":"I","g":"O"}
  ]},
  "mark": "text",
  "encoding": {
   "x": {"field": "x", "type": "quantitative", "scale": {"domain": [0.43, 2.57], "nice": false, "zero": false}, "axis": {"values": [1, 2], "format": "d", "title": "layer 1 cluster assignment"}},
   "y": {"field": "y", "type": "quantitative", "scale": {"domain": [0.4, 2.995], "nice": false, "zero": false}, "axis": {"values": [1, 2], "format": "d", "title": "layer 2 cluster assignment"}},
   "text": {"field": "l"},
   "color": {"field": "g", "type": "nominal", "scale": {"domain": ["K", "P", "T", "O"], "range": ["#000000", "#C84FE6", "#72EBC8", "#E69F00"]}, "legend": {"title": null, "labelExpr": "datum.label == 'K' ? 'Healthy' : datum.label == 'T' ? 'Sk.Ca.' : datum.label == 'P' ? 'Low RS' : 'High RS'"}}
  }}
 ]
},
{
 "width": 311, "height": 338,
 "title": {"text": "05012 - Parkinson's disease", "subtitle": "I = 83 ; f.rand = 0.03"},
 "layer": [
  {"data": {"values": [{}]}, "mark": "rule", "encoding": {"x": {"datum": 1.5, "scale": {"domain": [0.43, 2.57], "nice": false, "zero": false}}}},
  {"data": {"values": [{}]}, "mark": "rule", "encoding": {"y": {"datum": 1.5, "scale": {"domain": [0.4, 2.995], "nice": false, "zero": false}}}},
  {"data": {"values": [
{"x":0.65,"y":1.65,"l":"U","g":"P"},{"x":0.825,"y":1.65,"l":"U","g":"P"},{"x":1,"y":1.65,"l":"U","g":"P"},{"x":1.175,"y":1.65,"l":"U","g":"P"},{"x":1.35,"y":1.65,"l":"U","g":"O"},
{"x":0.65,"y":1.825,"l":"U","g":"O"},{"x":0.825,"y":1.825,"l":"U","g":"O"},{"x":1,"y":1.825,"l":"I","g":"O"},{"x":1.175,"y":1.825,"l":"U","g":"O"},{"x":1.35,"y":1.825,"l":"U","g":"O"},
{"x":0.65,"y":2,"l":"M","g":"O"},{"x":0.825,"y":2,"l":"U","g":"O"},{"x":1,"y":2,"l":"U","g":"O"},{"x":1.175,"y":2,"l":"U","g":"O"},{"x":1.35,"y":2,"l":"U","g":"O"},
{"x":0.65,"y":2.175,"l":"U","g":"O"},{"x":0.825,"y":2.175,"l":"U","g":"O"},{"x":1,"y":2.175,"l":"M","g":"O"},{"x":1.175,"y":2.175,"l":"U","g":"O"},
{"x":0.65,"y":0.65,"l":"I","g":"P"},{"x":0.79,"y":0.65,"l":"M","g":"P"},{"x":0.93,"y":0.65,"l":"U","g":"P"},{"x":1.07,"y":0.65,"l":"I","g":"P"},{"x":1.21,"y":0.65,"l":"M","g":"P"},{"x":1.35,"y":0.65,"l":"I","g":"P"},
{"x":0.65,"y":0.79,"l":"M","g":"P"},{"x":0.79,"y":0.79,"l":"M","g":"P"},{"x":0.93,"y":0.79,"l":"I","g":"P"},{"x":1.07,"y":0.79,"l":"M","g":"P"},{"x":1.21,"y":0.79,"l":"M","g":"P"},{"x":1.35,"y":0.79,"l":"I","g":"P"},
{"x":0.65,"y":0.93,"l":"I","g":"O"},{"x":0.79,"y":0.93,"l":"M","g":"O"},{"x":0.93,"y":0.93,"l":"I","g":"O"},{"x":1.07,"y":0.93,"l":"M","g":"O"},{"x":1.21,"y":0.93,"l":"I","g":"O"},{"x":1.35,"y":0.93,"l":"M","g":"O"},
{"x":0.65,"y":1.07,"l":"M","g":"O"},{"x":0.79,"y":1.07,"l":"I","g":"O"},{"x":0.93,"y":1.07,"l":"M","g":"O"},{"x":1.07,"y":1.07,"l":"I","g":"O"},{"x":1.21,"y":1.07,"l":"I","g":"O"},{"x":1.35,"y":1.07,"l":"M","g":"O"},
{"x":0.65,"y":1.21,"l":"I","g":"O"},{"x":0.79,"y":1.21,"l":"M","g":"O"},{"x":0.93,"y":1.21,"l":"I","g":"O"},{"x":1.07,"y":1.21,"l":"M","g":"O"},{"x":1.21,"y":1.21,"l":"I","g":"O"},{"x":1.35,"y":1.21,"l":"M","g":"O"},
{"x":0.65,"y":1.35,"l":"I","g":"O"},{"x":0.79,"y":1.35,"l":"M","g":"O"},
{"x":1.65,"y":1.65,"l":"U","g":"K"},{"x":1.767,"y":1.65,"l":"U","g":"K"},{"x":1.883,"y":1.65,"l":"U","g":"K"},{"x":2,"y":1.65,"l":"U","g":"K"},{"x":2.117,"y":1.65,"l":"U","g":"K"},{"x":2.233,"y":1.65,"l":"U","g":"K"},{"x":2.35,"y":1.65,"l":"U","g":"K"},
{"x":1.65,"y":1.767,"l":"U","g":"K"},{"x":1.767,"y":1.767,"l":"U","g":"K"},{"x":1.883,"y":1.767,"l":"U","g":"K"},{"x":2,"y":1.767,"l":"U","g":"K"},{"x":2.117,"y":1.767,"l":"U","g":"K"},{"x":2.233,"y":1.767,"l":"U","g":"K"},{"x":2.35,"y":1.767,"l":"U","g":"K"},
{"x":1.65,"y":1.883,"l":"U","g":"K"},{"x":1.767,"y":1.883,"l":"U","g":"T"},{"x":1.883,"y":1.883,"l":"U","g":"T"},{"x":2,"y":1.883,"l":"U","g":"T"},{"x":2.117,"y":1.883,"l":"U","g":"T"},{"x":2.233,"y":1.883,"l":"U","g":"T"},{"x":2.35,"y":1.883,"l":"U","g":"T"},
{"x":1.65,"y":2,"l":"U","g":"T"},{"x":1.767,"y":2,"l":"U","g":"T"},{"x":1.883,"y":2,"l":"U","g":"T"},{"x":2,"y":2,"l":"I","g":"T"},{"x":2.117,"y":2,"l":"M","g":"T"},{"x":2.233,"y":2,"l":"U","g":"T"},{"x":2.35,"y":2,"l":"U","g":"T"},
{"x":1.65,"y":2.117,"l":"U","g":"T"},{"x":1.767,"y":2.117,"l":"I","g":"T"},{"x":1.883,"y":2.117,"l":"M","g":"T"},{"x":2,"y":2.117,"l":"U","g":"T"},{"x":2.117,"y":2.117,"l":"U","g":"T"},{"x":2.233,"y":2.117,"l":"U","g":"T"},{"x":2.35,"y":2.117,"l":"U","g":"P"},
{"x":1.65,"y":2.233,"l":"U","g":"P"},{"x":1.767,"y":2.233,"l":"U","g":"P"},{"x":1.883,"y":2.233,"l":"U","g":"P"},{"x":2,"y":2.233,"l":"U","g":"P"},{"x":2.117,"y":2.233,"l":"U","g":"P"},{"x":2.233,"y":2.233,"l":"U","g":"P"},{"x":2.35,"y":2.233,"l":"U","g":"P"},
{"x":1.65,"y":2.35,"l":"U","g":"O"},{"x":1.767,"y":2.35,"l":"U","g":"O"},
{"x":1.65,"y":0.65,"l":"I","g":"K"},{"x":1.738,"y":0.65,"l":"M","g":"K"},{"x":1.825,"y":0.65,"l":"I","g":"K"},{"x":1.913,"y":0.65,"l":"M","g":"K"},{"x":2,"y":0.65,"l":"I","g":"K"},{"x":2.088,"y":0.65,"l":"M","g":"K"},{"x":2.175,"y":0.65,"l":"I","g":"K"},{"x":2.263,"y":0.65,"l":"M","g":"K"},{"x":2.35,"y":0.65,"l":"I","g":"K"},
{"x":1.65,"y":0.738,"l":"M","g":"K"},{"x":1.738,"y":0.738,"l":"I","g":"K"},{"x":1.825,"y":0.738,"l":"M","g":"K"},{"x":1.913,"y":0.738,"l":"I","g":"K"},{"x":2,"y":0.738,"l":"M","g":"K"},{"x":2.088,"y":0.738,"l":"I","g":"K"},{"x":2.175,"y":0.738,"l":"M","g":"K"},{"x":2.263,"y":0.738,"l":"I","g":"K"},{"x":2.35,"y":0.738,"l":"M","g":"K"},
{"x":1.65,"y":0.825,"l":"I","g":"K"},{"x":1.738,"y":0.825,"l":"M","g":"K"},{"x":1.825,"y":0.825,"l":"I","g":"K"},{"x":1.913,"y":0.825,"l":"M","g":"K"},{"x":2,"y":0.825,"l":"I","g":"K"},{"x":2.088,"y":0.825,"l":"M","g":"K"},{"x":2.175,"y":0.825,"l":"I","g":"K"},{"x":2.263,"y":0.825,"l":"M","g":"K"},{"x":2.35,"y":0.825,"l":"I","g":"K"},
{"x":1.65,"y":0.913,"l":"M","g":"K"},{"x":1.738,"y":0.913,"l":"I","g":"K"},{"x":1.825,"y":0.913,"l":"M","g":"K"},{"x":1.913,"y":0.913,"l":"I","g":"T"},{"x":2,"y":0.913,"l":"M","g":"T"},{"x":2.088,"y":0.913,"l":"I","g":"T"},{"x":2.175,"y":0.913,"l":"M","g":"T"},{"x":2.263,"y":0.913,"l":"I","g":"T"},{"x":2.35,"y":0.913,"l":"M","g":"T"},
{"x":1.65,"y":1,"l":"I","g":"T"},{"x":1.738,"y":1,"l":"M","g":"T"},{"x":1.825,"y":1,"l":"I","g":"T"},{"x":1.913,"y":1,"l":"M","g":"T"},{"x":2,"y":1,"l":"I","g":"T"},{"x":2.088,"y":1,"l":"M","g":"T"},{"x":2.175,"y":1,"l":"I","g":"T"},{"x":2.263,"y":1,"l":"M","g":"T"},{"x":2.35,"y":1,"l":"I","g":"T"},
{"x":1.65,"y":1.088,"l":"M","g":"T"},{"x":1.738,"y":1.088,"l":"I","g":"T"},{"x":1.825,"y":1.088,"l":"M","g":"T"},{"x":1.913,"y":1.088,"l":"I","g":"T"},{"x":2,"y":1.088,"l":"M","g":"T"},{"x":2.088,"y":1.088,"l":"I","g":"T"},{"x":2.175,"y":1.088,"l":"M","g":"T"},{"x":2.263,"y":1.088,"l":"I","g":"T"},{"x":2.35,"y":1.088,"l":"M","g":"T"},
{"x":1.65,"y":1.175,"l":"I","g":"T"},{"x":1.738,"y":1.175,"l":"M","g":"T"},{"x":1.825,"y":1.175,"l":"I","g":"P"},{"x":1.913,"y":1.175,"l":"M","g":"P"},{"x":2,"y":1.175,"l":"I","g":"P"},{"x":2.088,"y":1.175,"l":"M","g":"P"},{"x":2.175,"y":1.175,"l":"I","g":"P"},{"x":2.263,"y":1.175,"l":"M","g":"P"},{"x":2.35,"y":1.175,"l":"I","g":"P"},
{"x":1.65,"y":1.263,"l":"M","g":"P"},{"x":1.738,"y":1.263,"l":"I","g":"P"},{"x":1.825,"y":1.263,"l":"I","g":"P"},{"x":1.913,"y":1.263,"l":"M","g":"P"},{"x":2,"y":1.263,"l":"I","g":"P"},{"x":2.088,"y":1.263,"l":"M","g":"P"},{"x":2.175,"y":1.263,"l":"I","g":"P"},{"x":2.263,"y":1.263,"l":"M","g":"P"},{"x":2.35,"y":1.263,"l":"I","g":"O"},
{"x":1.65,"y":1.35,"l":"M","g":"O"},{"x":1.738,"y":1.35,"l":"M","g":"O"},{"x":1.825,"y":1.35,"l":"I","g":"O"},{"x":1.913,"y":1.35,"l":"I","g":"O"}
  ]},
  "mark": "text",
  "encoding": {
   "x": {"field": "x", "type": "quantitative", "scale": {"domain": [0.43, 2.57], "nice": false, "zero": false}, "axis": {"values": [1, 2], "format": "d", "title": "layer 1 cluster assignment"}},
   "y": {"field": "y", "type": "quantitative", "scale": {"domain": [0.4, 2.995], "nice": false, "zero": false}, "axis": {"values": [1, 2], "format": "d", "title": "layer 2 cluster assignment"}},
   "text": {"field": "l"},
   "color": {"field": "g", "type": "nominal", "scale": {"domain": ["K", "P", "T", "O"], "range": ["#000000", "#C84FE6", "#72EBC8", "#E69F00"]}, "legend": {"title": null, "labelExpr": "datum.label == 'K' ? 'Healthy' : datum.label == 'T' ? 'Sk.Ca.' : datum.label == 'P' ? 'Low RS' : 'High RS'"}}
  }}
 ]
},
{
 "width": 311, "height": 338,
 "title": {"text": "03030 - DNA replication", "subtitle": "I = 39 ; f.rand = 0.04"},
 "layer": [
  {"data": {"values": [{}]}, "mark": "rule", "encoding": {"x": {"datum": 1.5, "scale": {"domain": [0.43, 2.57], "nice": false, "zero": false}}}},
  {"data": {"values": [{}]}, "mark": "rule", "encoding": {"y": {"datum": 1.5, "scale": {"domain": [0.4, 2.995], "nice": false, "zero": false}}}},
  {"data": {"values": [
{"x":0.65,"y":1.65,"l":"M","g":"P"},{"x":0.883,"y":1.65,"l":"M","g":"P"},{"x":1.117,"y":1.65,"l":"M","g":"P"},{"x":1.35,"y":1.65,"l":"M","g":"P"},
{"x":0.65,"y":1.883,"l":"M","g":"P"},{"x":0.883,"y":1.883,"l":"M","g":"P"},{"x":1.117,"y":1.883,"l":"M","g":"O"},{"x":1.35,"y":1.883,"l":"U","g":"O"},
{"x":0.65,"y":2.117,"l":"M","g":"O"},{"x":0.883,"y":2.117,"l":"M","g":"O"},{"x":1.117,"y":2.117,"l":"M","g":"O"},{"x":1.35,"y":2.117,"l":"M","g":"O"},
{"x":0.65,"y":2.35,"l":"M","g":"O"},{"x":0.883,"y":2.35,"l":"M","g":"O"},{"x":1.117,"y":2.35,"l":"M","g":"O"},{"x":1.35,"y":2.35,"l":"M","g":"O"},
{"x":0.65,"y":0.65,"l":"M","g":"K"},{"x":0.767,"y":0.65,"l":"M","g":"K"},{"x":0.883,"y":0.65,"l":"M","g":"K"},{"x":1,"y":0.65,"l":"M","g":"K"},{"x":1.117,"y":0.65,"l":"M","g":"K"},{"x":1.233,"y":0.65,"l":"M","g":"K"},{"x":1.35,"y":0.65,"l":"M","g":"K"},
{"x":0.65,"y":0.767,"l":"M","g":"K"},{"x":0.767,"y":0.767,"l":"M","g":"K"},{"x":0.883,"y":0.767,"l":"I","g":"K"},{"x":1,"y":0.767,"l":"M","g":"K"},{"x":1.117,"y":0.767,"l":"M","g":"K"},{"x":1.233,"y":0.767,"l":"M","g":"K"},{"x":1.35,"y":0.767,"l":"M","g":"K"},
{"x":0.65,"y":0.883,"l":"M","g":"K"},{"x":0.767,"y":0.883,"l":"M","g":"K"},{"x":0.883,"y":0.883,"l":"M","g":"T"},{"x":1,"y":0.883,"l":"M","g":"T"},{"x":1.117,"y":0.883,"l":"M","g":"T"},{"x":1.233,"y":0.883,"l":"M","g":"T"},{"x":1.35,"y":0.883,"l":"M","g":"T"},
{"x":0.65,"y":1,"l":"U","g":"T"},{"x":0.767,"y":1,"l":"M","g":"T"},{"x":0.883,"y":1,"l":"M","g":"T"},{"x":1,"y":1,"l":"M","g":"T"},{"x":1.117,"y":1,"l":"M","g":"T"},{"x":1.233,"y":1,"l":"M","g":"T"},{"x":1.35,"y":1,"l":"M","g":"T"},
{"x":0.65,"y":1.117,"l":"M","g":"T"},{"x":0.767,"y":1.117,"l":"M","g":"T"},{"x":0.883,"y":1.117,"l":"M","g":"T"},{"x":1,"y":1.117,"l":"M","g":"T"},{"x":1.117,"y":1.117,"l":"M","g":"P"},{"x":1.233,"y":1.117,"l":"M","g":"P"},{"x":1.35,"y":1.117,"l":"M","g":"P"},
{"x":0.65,"y":1.233,"l":"M","g":"P"},{"x":0.767,"y":1.233,"l":"M","g":"P"},{"x":0.883,"y":1.233,"l":"M","g":"P"},{"x":1,"y":1.233,"l":"M","g":"P"},{"x":1.117,"y":1.233,"l":"M","g":"O"},{"x":1.233,"y":1.233,"l":"M","g":"O"},{"x":1.35,"y":1.233,"l":"M","g":"O"},
{"x":1.65,"y":1.65,"l":"I","g":"P"},{"x":1.79,"y":1.65,"l":"U","g":"P"},{"x":1.93,"y":1.65,"l":"I","g":"P"},{"x":2.07,"y":1.65,"l":"U","g":"P"},{"x":2.21,"y":1.65,"l":"I","g":"P"},{"x":2.35,"y":1.65,"l":"U","g":"P"},
{"x":1.65,"y":1.79,"l":"U","g":"P"},{"x":1.79,"y":1.79,"l":"U","g":"P"},{"x":1.93,"y":1.79,"l":"I","g":"P"},{"x":2.07,"y":1.79,"l":"I","g":"O"},{"x":2.21,"y":1.79,"l":"I","g":"O"},{"x":2.35,"y":1.79,"l":"U","g":"O"},
{"x":1.65,"y":1.93,"l":"I","g":"O"},{"x":1.79,"y":1.93,"l":"U","g":"O"},{"x":1.93,"y":1.93,"l":"I","g":"O"},{"x":2.07,"y":1.93,"l":"M","g":"O"},{"x":2.21,"y":1.93,"l":"U","g":"O"},{"x":2.35,"y":1.93,"l":"I","g":"O"},
{"x":1.65,"y":2.07,"l":"U","g":"O"},{"x":1.79,"y":2.07,"l":"I","g":"O"},{"x":1.93,"y":2.07,"l":"U","g":"O"},{"x":2.07,"y":2.07,"l":"U","g":"O"},{"x":2.21,"y":2.07,"l":"I","g":"O"},{"x":2.35,"y":2.07,"l":"U","g":"O"},
{"x":1.65,"y":2.21,"l":"I","g":"O"},{"x":1.79,"y":2.21,"l":"U","g":"O"},{"x":1.93,"y":2.21,"l":"I","g":"O"},{"x":2.07,"y":2.21,"l":"U","g":"O"},{"x":2.21,"y":2.21,"l":"I","g":"O"},{"x":2.35,"y":2.21,"l":"M","g":"O"},
{"x":1.65,"y":2.35,"l":"U","g":"O"},{"x":1.79,"y":2.35,"l":"I","g":"O"},{"x":1.93,"y":2.35,"l":"U","g":"O"},
{"x":1.65,"y":0.65,"l":"I","g":"K"},{"x":1.738,"y":0.65,"l":"U","g":"K"},{"x":1.825,"y":0.65,"l":"I","g":"K"},{"x":1.913,"y":0.65,"l":"U","g":"K"},{"x":2,"y":0.65,"l":"I","g":"K"},{"x":2.088,"y":0.65,"l":"U","g":"K"},{"x":2.175,"y":0.65,"l":"I","g":"K"},{"x":2.263,"y":0.65,"l":"U","g":"K"},{"x":2.35,"y":0.65,"l":"I","g":"K"},
{"x":1.65,"y":0.738,"l":"U","g":"K"},{"x":1.738,"y":0.738,"l":"I","g":"K"},{"x":1.825,"y":0.738,"l":"U","g":"K"},{"x":1.913,"y":0.738,"l":"I","g":"K"},{"x":2,"y":0.738,"l":"U","g":"K"},{"x":2.088,"y":0.738,"l":"I","g":"K"},{"x":2.175,"y":0.738,"l":"U","g":"K"},{"x":2.263,"y":0.738,"l":"I","g":"K"},{"x":2.35,"y":0.738,"l":"U","g":"K"},
{"x":1.65,"y":0.825,"l":"U","g":"K"},{"x":1.738,"y":0.825,"l":"I","g":"K"},{"x":1.825,"y":0.825,"l":"U","g":"K"},{"x":1.913,"y":0.825,"l":"I","g":"K"},{"x":2,"y":0.825,"l":"U","g":"K"},{"x":2.088,"y":0.825,"l":"I","g":"K"},{"x":2.175,"y":0.825,"l":"U","g":"K"},{"x":2.263,"y":0.825,"l":"I","g":"K"},{"x":2.35,"y":0.825,"l":"U","g":"K"},
{"x":1.65,"y":0.913,"l":"I","g":"K"},{"x":1.738,"y":0.913,"l":"U","g":"K"},{"x":1.825,"y":0.913,"l":"I","g":"T"},{"x":1.913,"y":0.913,"l":"U","g":"T"},{"x":2,"y":0.913,"l":"I","g":"T"},{"x":2.088,"y":0.913,"l":"U","g":"T"},{"x":2.175,"y":0.913,"l":"I","g":"T"},{"x":2.263,"y":0.913,"l":"U","g":"T"},{"x":2.35,"y":0.913,"l":"I","g":"T"},
{"x":1.65,"y":1,"l":"U","g":"T"},{"x":1.738,"y":1,"l":"I","g":"T"},{"x":1.825,"y":1,"l":"I","g":"T"},{"x":1.913,"y":1,"l":"U","g":"T"},{"x":2,"y":1,"l":"I","g":"T"},{"x":2.088,"y":1,"l":"U","g":"T"},{"x":2.175,"y":1,"l":"I","g":"T"},{"x":2.263,"y":1,"l":"U","g":"T"},{"x":2.35,"y":1,"l":"I","g":"T"},
{"x":1.65,"y":1.088,"l":"U","g":"T"},{"x":1.738,"y":1.088,"l":"I","g":"T"},{"x":1.825,"y":1.088,"l":"U","g":"T"},{"x":1.913,"y":1.088,"l":"I","g":"T"},{"x":2,"y":1.088,"l":"U","g":"T"},{"x":2.088,"y":1.088,"l":"I","g":"T"},{"x":2.175,"y":1.088,"l":"U","g":"T"},{"x":2.263,"y":1.088,"l":"I","g":"T"},{"x":2.35,"y":1.088,"l":"U","g":"T"},
{"x":1.65,"y":1.175,"l":"I","g":"T"},{"x":1.738,"y":1.175,"l":"U","g":"T"},{"x":1.825,"y":1.175,"l":"I","g":"T"},{"x":1.913,"y":1.175,"l":"U","g":"T"},{"x":2,"y":1.175,"l":"U","g":"P"},{"x":2.088,"y":1.175,"l":"I","g":"P"},{"x":2.175,"y":1.175,"l":"I","g":"P"},{"x":2.263,"y":1.175,"l":"U","g":"P"},{"x":2.35,"y":1.175,"l":"I","g":"P"},
{"x":1.65,"y":1.263,"l":"I","g":"P"},{"x":1.738,"y":1.263,"l":"U","g":"P"},{"x":1.825,"y":1.263,"l":"I","g":"P"},{"x":1.913,"y":1.263,"l":"U","g":"P"},{"x":2,"y":1.263,"l":"I","g":"P"},{"x":2.088,"y":1.263,"l":"U","g":"P"},{"x":2.175,"y":1.263,"l":"I","g":"P"},{"x":2.263,"y":1.263,"l":"U","g":"P"},{"x":2.35,"y":1.263,"l":"I","g":"P"},
{"x":1.65,"y":1.35,"l":"U","g":"P"},{"x":1.738,"y":1.35,"l":"I","g":"P"},{"x":1.825,"y":1.35,"l":"U","g":"P"},{"x":1.913,"y":1.35,"l":"I","g":"O"},{"x":2,"y":1.35,"l":"U","g":"O"},{"x":2.088,"y":1.35,"l":"I","g":"O"},{"x":2.175,"y":1.35,"l":"I","g":"O"},{"x":2.263,"y":1.35,"l":"U","g":"O"}
  ]},
  "mark": "text",
  "encoding": {
   "x": {"field": "x", "type": "quantitative", "scale": {"domain": [0.43, 2.57], "nice": false, "zero": false}, "axis": {"values": [1, 2], "format": "d", "title": "layer 1 cluster assignment"}},
   "y": {"field": "y", "type": "quantitative", "scale": {"domain": [0.4, 2.995], "nice": false, "zero": false}, "axis": {"values": [1, 2], "format": "d", "title": "layer 2 cluster assignment"}},
   "text": {"field": "l"},
   "color": {"field": "g", "type": "nominal", "scale": {"domain": ["K", "P", "T", "O"], "range": ["#000000", "#C84FE6", "#72EBC8", "#E69F00"]}, "legend": {"title": null, "labelExpr": "datum.label == 'K' ? 'Healthy' : datum.label == 'T' ? 'Sk.Ca.' : datum.label == 'P' ? 'Low RS' : 'High RS'"}}
  }}
 ]
}
]
}
